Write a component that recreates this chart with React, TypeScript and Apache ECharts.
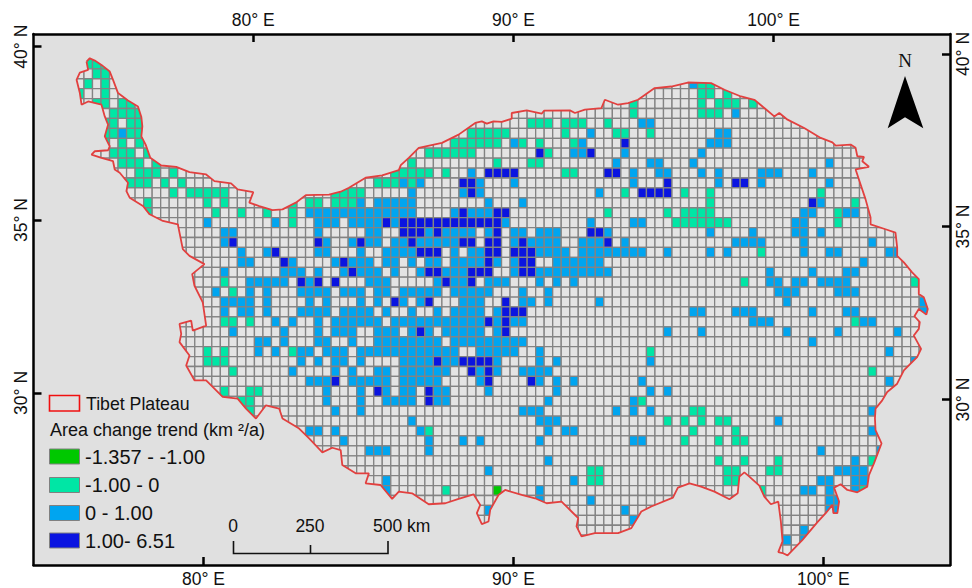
import React, { useEffect, useRef } from "react";
import * as echarts from "echarts";

// Map plane: one unit is one reference pixel. The grid has 100 columns and 50 rows.
const mapExtentX = [33.5, 953];
const mapExtentY = [34, 567];
const gridOrigin = [75.6, 59];
const cellSize = [8.55, 9.96];
const gridCols = 100;
const gridRows = 50;

type RowCells = [number, number[]];

const range = (a: number, b: number) => { const o: number[] = []; for (let i = a; i <= b; i++) o.push(i); return o; };

const strongDecline: RowCells[] = [[43, [49]]];

const moderateDecline: RowCells[] = [
  [0, [1, 2, 3]], [1, [2, 3]], [2, [1, 3, 73, 74]], [3, [0, 3, 73, 74, 76]],
  [4, [2, 3, 5, 6, 65, 73, 75, 76, 77, 79]], [5, [4, 5, 6, 7, 65, 73, 74, 75]],
  [6, [3, 4, 6, 7, 53, 54, 55, 57, 58, 59, 62]], [7, [3, 4, 6, 7, 46, 47, 48, 49, 50, 57, 63, 64, 67]],
  [8, [3, 5, 7, 44, 45, 46, 47, 48, 49, 52, 54, 58]], [9, [4, 5, 6, 8, 41, 42, 43, 44, 45, 46, 55]],
  [10, [5, 6, 7, 9, 39, 49, 53, 54]], [11, [7, 8, 9, 11, 37, 38, 39, 40, 41, 43, 57, 58]],
  [12, [6, 7, 8, 10, 12, 35, 36, 37, 39]], [13, [11, 13, 14, 15, 16, 17, 30, 31, 32, 33, 64, 71, 74, 87]],
  [14, [8, 15, 17, 25, 27, 28, 30, 31, 32, 74, 91]], [15, [8, 16, 19, 22, 25, 62, 69, 71, 72, 73, 74, 89]],
  [16, [25, 70, 71, 72, 73, 74, 75, 76, 89]], [19, [80]], [22, [17, 78, 98]], [23, [18]],
  [26, [17, 18, 20, 91]], [29, [15, 17, 25, 67]], [30, [15, 16, 17]], [31, [18, 93]],
  [33, [17, 20, 21]], [34, [19, 20, 66]], [35, [20, 72, 73]], [36, [69, 71, 73, 75, 76]],
  [37, [41, 72, 77]], [38, [71, 75, 77, 78]], [40, [75, 78, 82, 93]], [41, [60, 61, 76, 77, 81, 82]],
  [42, [60, 61, 76, 77]], [43, [43, 80, 92]],
];

const slightGrowth: RowCells[] = [
  [2, [72]], [5, [77]], [6, [66, 67]], [7, [5, 60, 75, 76]], [8, [51, 59, 74, 75, 76]],
  [9, [58, 59, 64, 73]], [10, [63, 67, 68, 72, 88]], [11, [46, 65, 68, 69, 73, 75, 80, 81, 82, 86]],
  [12, [38, 40, 47, 51, 65, 75, 80, 88]], [13, [39, 45, 47, 61]],
  [14, [33, 35, 36, 37, 38, 39, 48, 52, 87]],
  [15, [...range(27, 39), 44, 46, 47, 48, 85, 86, 90, 91]],
  [16, [15, 23, 28, 29, 30, 32, 33, 34, 35, 37, 50, 60, 65, 66, 84, 85]],
  [17, [17, 18, 28, 34, 35, 41, 43, 44, 45, 46, 48, 51, 52, 54, 55, 56, 62, 74, 79, 84, 85, 87]],
  [18, [17, 29, 32, 34, 35, 37, 38, 40, 41, 42, 43, 44, 51, 53, 54, 55, 56, 59, 60, 61, 64, 77, 78, 79, 80, 85, 93]],
  [19, [19, 22, 28, 29, 33, 36, 37, 38, 39, 44, 46, 47, 54, 55, 56, 57, 59, 60, 61, 62, 63, 64, 65, 66, 69, 74, 76, 85, 88, 89, 95, 96]],
  [20, [19, 20, 25, 30, 32, 33, 34, 36, 37, 39, 41, 42, 44, 45, 46, 47, 49, 51, 56, 57, 58, 59, 60, 61, 92]],
  [21, [17, 24, 25, 26, 28, 31, 33, 34, 35, 37, 40, 43, 44, 45, 51, ...range(54, 62), 81, 86, 90, 91]],
  [22, [20, 21, 22, 23, 24, 27, 34, 35, 36, 42, 44, 45, 48, 49, 50, 54, 56, 58, 81, 82, 84, 85, 87, 88, 89, 90]],
  [23, [16, 20, 22, 26, 27, 28, 29, 31, 32, 33, 35, 36, 38, 39, 40, 41, 42, 44, 45, 46, 47, 48, 52, 55, 82, 83, 84, 89, 90, 91]],
  [24, [17, 18, 19, 20, 22, 27, 29, 33, 35, 38, 40, 45, 46, 47, 52, 53, 55, 61, 83, 99]],
  [25, [17, 19, 20, 22, 26, 27, 28, 29, 31, 32, 33, 34, 36, 39, 42, 44, 45, 46, 47, 49, 72, 73, 77, 78, 79, 86, 90, 91, 99]],
  [26, [23, 25, 28, ...range(30, 35), ...range(37, 47), 49, 51, 52, 79, 80, 81, 92, 93]],
  [27, [18, 24, 28, 30, 31, 32, 35, 36, 37, 39, 41, 43, 44, 45, 46, 47, 49, 69, 73, 83, 89, 96]],
  [28, [21, 22, 24, 28, 29, 32, ...range(35, 42), ...range(44, 52), 86]],
  [29, [21, 23, 26, 27, 29, 30, 31, ...range(33, 44), 47, 48, 49, 50, 51, 54, 95]],
  [30, [26, 28, 30, 31, 33, 38, 39, 40, 41, 43, 44, 49, 54, 56, 67, 98]],
  [31, [25, 30, 32, 35, 36, ...range(38, 43), 47, 49, 52, 53, 54, 55]],
  [32, [27, 28, 29, ...range(32, 36), ...range(38, 42), 47, 54, 56, 58, 66, 95]],
  [33, [29, 33, 36, 38, 39, 42, 43, 48, 56, 67, 69]],
  [34, [29, 33, 36, 37, 38, 39, 42, 43, 55, 65]],
  [35, [30, 33, 52, 53, 54, 63, 65, 67, 93]],
  [36, [39, 54, 55, 56, 82]],
  [37, [27, 28, 30, 40, 55, 57, 58, 93]],
  [38, [31, 41, 45, 47, 54, 65, 66]],
  [39, [34, 35, 36, 41, 87, 94]],
  [40, [55, 91]], [41, [48, 89, 90, 91, 92]], [42, [36, 58, 87, 88, 91, 92]],
  [43, [36, 54, 85, 86, 88, 91]], [44, [54, 60, 88, 89]], [45, [48, 64, 88, 89]],
  [46, [65]], [47, [85]], [48, [83, 85]],
];

const strongGrowth: RowCells[] = [
  [8, [64]], [9, [54, 60]], [11, [48, 49, 50, 51, 62, 63]], [12, [45, 46, 69, 77, 78]],
  [13, [46, 66, 67, 68, 69]], [14, [86]], [15, [45, 49, 50]], [16, [36, ...range(38, 49)]],
  [17, [38, 39, 40, 42, 49, 60, 61]], [18, [18, 28, 33, 39, 45, 46, 48, 49, 52, 62]],
  [19, [23, 40, 41, 42, 48, 49, 51, 52, 53]], [20, [24, 31, 48, 52, 53]],
  [21, [32, 41, 42, 46, 47, 48, 52, 53]], [22, [26, 28, 30, 43, 46]],
  [24, [37, 41, 50]], [25, [50, 51, 52]], [26, [48, 50]], [27, [40, 50]],
  [30, [42, 45, 46, 47, 48]], [31, [46, 48]], [32, [30, 48, 53]], [33, [35, 41]], [34, [41]],
];

const plateauBoundary: [number, number][] = [
  [86.7, 61.7], [90, 58.3], [95, 60.7], [101.7, 65], [110, 71.7], [113.3, 80], [118.3, 93.3], [128.3, 100.7], [138.3, 106.7],
  [141.7, 117.3], [142.7, 126.7], [141.7, 136.7], [146, 145], [150.7, 158.3], [161.7, 166], [176.7, 167.3], [190, 172.7],
  [206.7, 175], [215, 181.7], [231.7, 184], [238.3, 190], [254, 192.7], [250, 203.3], [260, 206.7], [273.3, 210.7], [283.3, 210],
  [296.7, 203.3], [306.7, 195.7], [330, 195.3], [341.7, 192.3], [350, 188.3], [366.7, 178.3], [383.3, 176], [400, 170.7],
  [402, 165.7], [410, 158.3], [420, 148.3], [443.3, 143.3], [460, 135], [476.7, 123.3], [483.3, 121.7], [488.3, 124], [495, 121.7],
  [503.3, 122.3], [513.3, 119], [513.3, 113.3], [528.3, 110.7], [543.3, 114], [545.7, 111], [571.7, 110.7], [576.7, 113.3],
  [586.7, 110], [603.3, 108.3], [606.7, 100], [620, 105], [630, 103.3], [640, 100], [651.7, 91.7], [656.7, 88.3], [673.3, 86.7],
  [690, 82.7], [713.3, 83.3], [726.7, 90], [743.3, 96.7], [756.7, 100], [766.7, 108.3], [776.7, 116.7], [781.7, 113.3], [790, 120],
  [806.7, 128.3], [823.3, 138.3], [835, 142.7], [838.3, 146], [853.3, 145], [858.3, 148.3], [860, 156.7], [866.7, 157.3], [865, 161.7],
  [871.7, 167.3], [858.3, 170], [863.3, 185], [868.3, 200], [873.3, 218.3], [873.3, 225], [888.3, 230], [898.3, 233.3], [900, 248.3],
  [900, 256.7], [906.7, 263.3], [915, 273.3], [921.7, 280], [921.7, 295], [926.7, 298.3], [930.7, 310], [929.3, 315.7], [921.7, 310],
  [917.3, 317.3], [922.7, 323.3], [921.7, 330], [916.7, 336.7], [924, 350], [920, 358.3], [906.7, 371.7], [900, 385], [890, 393.3],
  [885, 401.7], [878.3, 410], [877.7, 420], [878.3, 431.7], [884.3, 445], [876.7, 465], [871.7, 476.7], [870, 488.3], [860, 494],
  [850, 491.7], [843.3, 486], [836.7, 489.3], [841.7, 503.3], [840, 515], [836, 515], [835, 506.7], [828.3, 515], [820, 524],
  [805, 541.7], [790, 557.3], [785, 555], [780.7, 554], [785, 543.3], [783.3, 523.3], [780.7, 503.3], [773.3, 506], [766.7, 498.3],
  [761.7, 487.3], [751.7, 478.3], [746.7, 474], [741.7, 478.3], [740, 495], [731.7, 501], [716.7, 493.3], [703.3, 488.3], [691.7, 485],
  [680, 489.3], [675, 499.3], [653.3, 508.3], [643.3, 513.3], [633.3, 530], [620, 535], [610, 535], [596.7, 535], [583.3, 538.3],
  [578.3, 528.3], [580, 520], [573.3, 513.3], [563.3, 503.3], [548.3, 505], [536.7, 500], [523.3, 496.7], [506.7, 491.7], [500, 496.7],
  [491.7, 511.7], [490, 523.3], [483.3, 526], [478.3, 515], [481.7, 506.7], [475, 496], [460, 500.7], [446.7, 505], [430, 506],
  [413.3, 495], [400, 493.3], [393.3, 500.7], [381.7, 486.7], [366.7, 485], [370, 475], [356.7, 475], [343.3, 466.7], [341.7, 451.7],
  [333.3, 449.3], [323.3, 454], [310, 440], [300, 430], [283.3, 420], [280, 410], [266.7, 406.7], [256.7, 420], [246.7, 410],
  [238.3, 400], [223.3, 398.3], [206.7, 381.7], [195, 381.7], [186.7, 366.7], [190, 356.7], [180, 343.3], [181.7, 335], [180, 325],
  [191.7, 321.7], [193.3, 331.7], [206.7, 326.7], [203.3, 303.3], [195, 286.7], [192.7, 275], [205, 265], [190, 256.7], [183.3, 250],
  [178.3, 225], [163.3, 221.7], [150, 215], [143.3, 206.7], [130, 198.3], [126.7, 191.7], [128.3, 183.3], [120, 173.3], [115, 170],
  [113.3, 161.7], [101.7, 158.3], [91.7, 155], [95, 151.7], [108.3, 150.7], [110, 146.7], [105, 136.7], [108.3, 125], [105, 116.7],
  [101.7, 105], [88.3, 101.7], [81.7, 105], [80, 93.3], [76.7, 80], [80, 72.7], [88.3, 70], [86.7, 61.7],
];

const topLonTicks = [254, 515, 776];
const bottomLonTicks = [204, 515, 826];
const leftLatTicks = [46.7, 220.7, 394.3];
const rightLatTicks = [54, 227.3, 401];
const lonLabels = ["80° E", "90° E", "100° E"];
const latLabels = ["40° N", "35° N", "30° N"];

const legendClasses = ["-1.357 - -1.00", "-1.00 - 0", "0 - 1.00", "1.00- 6.51"];
const classColors = ["#00c800", "#00e6a5", "#00a5f0", "#0a14e0"];
const scaleLabels = ["0", "250", "500 km"];

const lookup = (ticks: number[], labels: string[]) => (v: number) => {
  const i = ticks.findIndex((t) => Math.abs(t - v) < 1);
  return i < 0 ? "" : labels[i];
};

const inside = (x: number, y: number) => {
  let hit = false;
  const p = plateauBoundary;
  for (let i = 0, j = p.length - 1; i < p.length; j = i++) {
    if (p[i][1] > y !== p[j][1] > y && x < ((p[j][0] - p[i][0]) * (y - p[i][1])) / (p[j][1] - p[i][1]) + p[i][0]) hit = !hit;
  }
  return hit;
};

const cellBox = (c: number, r: number) => {
  const x = gridOrigin[0] + c * cellSize[0];
  const y = gridOrigin[1] + r * cellSize[1];
  return [x, y, x + cellSize[0], y + cellSize[1]];
};

const cellTouchesPlateau = (c: number, r: number) => {
  const [a, b, d, e] = cellBox(c, r);
  const mx = (a + d) / 2, my = (b + e) / 2;
  return [[a, b], [d, b], [a, e], [d, e], [mx, my], [mx, b], [mx, e], [a, my], [d, my]].some(([x, y]) => inside(x, y));
};

const FONT = '"Liberation Sans", Arial, sans-serif';

function buildOption() {
  const colorOf = new Map<string, string>();
  const fill = (cells: RowCells[], color: string) =>
    cells.forEach(([r, cols]) => cols.forEach((c) => colorOf.set(c + ":" + r, color)));
  fill(slightGrowth, classColors[2]);
  fill(moderateDecline, classColors[1]);
  fill(strongGrowth, classColors[3]);
  fill(strongDecline, classColors[0]);

  const renderItem = (_p: any, api: any) => {
    const children: any[] = [];
    for (let r = 0; r < gridRows; r++) {
      for (let c = 0; c < gridCols; c++) {
        const color = colorOf.get(c + ":" + r);
        if (!color && !cellTouchesPlateau(c, r)) continue;
        const [a, b, d, e] = cellBox(c, r);
        const p0 = api.coord([a, b]);
        const p1 = api.coord([d, e]);
        children.push({
          type: "rect",
          shape: { x: p0[0], y: p0[1], width: p1[0] - p0[0], height: p1[1] - p0[1] },
          style: { fill: color || "#e4e4e4", stroke: "#838383", lineWidth: 1.3 },
        });
      }
    }
    return {
      type: "group",
      children,
      clipPath: { type: "polygon", shape: { points: plateauBoundary.map((p) => api.coord(p)) } },
    };
  };

  const axisCommon = {
    type: "value",
    axisLine: { show: true, onZero: false, lineStyle: { color: "#000", width: 2.5 } },
    splitLine: { show: false },
    axisTick: { show: true, inside: true, length: 8, lineStyle: { color: "#000", width: 2.5 } },
  };
  const xAxis = (position: string, ticks: number[]) => ({
    ...axisCommon,
    position,
    min: mapExtentX[0],
    max: mapExtentX[1],
    axisTick: { ...axisCommon.axisTick, customValues: ticks },
    axisLabel: {
      customValues: ticks, formatter: lookup(ticks, lonLabels), color: "#111",
      fontSize: 17.5, fontFamily: FONT, margin: 5, hideOverlap: false,
    },
  });
  const yAxis = (position: string, ticks: number[]) => ({
    ...axisCommon,
    position,
    inverse: true,
    min: mapExtentY[0],
    max: mapExtentY[1],
    axisTick: { ...axisCommon.axisTick, customValues: ticks },
    axisLabel: {
      customValues: ticks, formatter: lookup(ticks, latLabels), color: "#111", rotate: 90,
      fontSize: 17.5, fontFamily: FONT, margin: 4, hideOverlap: false,
    },
  });

  const legendY = [456.5, 485, 513, 540.5];
  const graphic: any[] = [
    { type: "rect", z: 20, shape: { x: 49.5, y: 395.5, width: 30, height: 15.5 }, style: { fill: "none", stroke: "#f01010", lineWidth: 1.6 } },
    { type: "text", z: 20, style: { x: 86, y: 404, text: "Tibet Plateau", fill: "#111", font: `17.7px ${FONT}`, textVerticalAlign: "middle" } },
    { type: "text", z: 20, style: { x: 50, y: 430, text: "Area change trend (km ²/a)", fill: "#111", font: `18px ${FONT}`, textVerticalAlign: "middle" } },
    ...legendClasses.flatMap((label, i) => [
      { type: "rect", z: 20, shape: { x: 49.5, y: legendY[i] - 7.5, width: 30, height: 15 }, style: { fill: classColors[i], stroke: "#808080", lineWidth: 1 } },
      { type: "text", z: 20, style: { x: 85, y: legendY[i], text: label, fill: "#111", font: `20px ${FONT}`, textVerticalAlign: "middle" } },
    ]),
    { type: "polyline", z: 20, shape: { points: [[233.5, 541], [233.5, 553.5], [388, 553.5], [388, 541]] }, style: { fill: "none", stroke: "#111", lineWidth: 1.6 } },
    { type: "line", z: 20, shape: { x1: 310.5, y1: 545, x2: 310.5, y2: 553.5 }, style: { stroke: "#111", lineWidth: 1.6 } },
    { type: "text", z: 20, style: { x: 233, y: 526, text: scaleLabels[0], fill: "#111", font: `17.5px ${FONT}`, textAlign: "center", textVerticalAlign: "middle" } },
    { type: "text", z: 20, style: { x: 310, y: 526, text: scaleLabels[1], fill: "#111", font: `17.5px ${FONT}`, textAlign: "center", textVerticalAlign: "middle" } },
    { type: "text", z: 20, style: { x: 373, y: 526, text: scaleLabels[2], fill: "#111", font: `17.5px ${FONT}`, textVerticalAlign: "middle" } },
    { type: "text", z: 20, style: { x: 905, y: 60, text: "N", fill: "#111", font: `19px "Liberation Serif", serif`, textAlign: "center", textVerticalAlign: "middle" } },
    { type: "polygon", z: 20, shape: { points: [[905, 76], [887.7, 128.3], [905, 117.3], [923.3, 128.3]] }, style: { fill: "#000" } },
  ];

  return {
    animation: false,
    backgroundColor: "#fff",
    grid: {
      left: mapExtentX[0], top: mapExtentY[0], right: 972 - mapExtentX[1], bottom: 588 - mapExtentY[1],
      show: true, backgroundColor: "#e0e0e0", borderWidth: 0,
    },
    xAxis: [xAxis("bottom", bottomLonTicks), xAxis("top", topLonTicks)],
    yAxis: [yAxis("left", leftLatTicks), yAxis("right", rightLatTicks)],
    graphic,
    series: [
      { type: "custom", xAxisIndex: 0, yAxisIndex: 0, coordinateSystem: "cartesian2d", data: [[gridOrigin[0], gridOrigin[1]]], renderItem, clip: false, silent: true, z: 2 },
      {
        type: "line", xAxisIndex: 0, yAxisIndex: 0, data: plateauBoundary, showSymbol: false, symbol: "none", silent: true, z: 3,
        lineStyle: { color: "#e2403f", width: 1.8 },
      },
    ],
  };
}

export default function App() {
  const ref = useRef<HTMLDivElement>(null);
  useEffect(() => {
    document.body.style.margin = "0";
    const chart = echarts.init(ref.current!, null, { renderer: "svg" });
    chart.setOption(buildOption() as any);
    return () => chart.dispose();
  }, []);
  return <div ref={ref} style={{ position: "fixed", left: 0, top: 0, width: 972, height: 588 }} />;
}
